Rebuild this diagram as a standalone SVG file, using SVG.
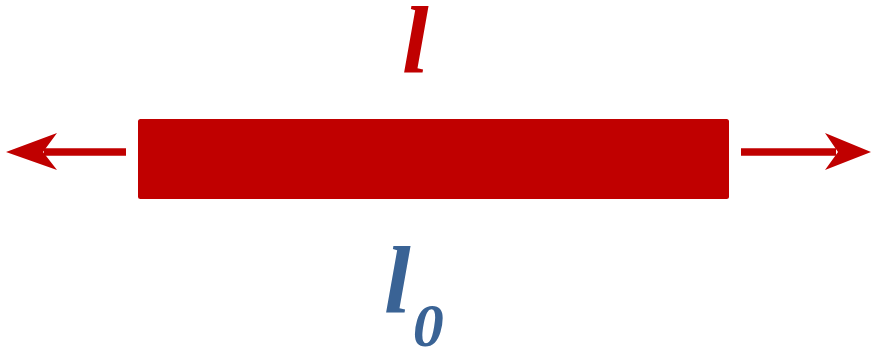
<svg xmlns="http://www.w3.org/2000/svg" width="872" height="351" viewBox="0 0 872 351">
<style>
.red{fill:#C00000}
.shaft{stroke:#C00000;stroke-width:7.5;fill:none}
.lbl{font-family:"Liberation Serif","Times New Roman",serif;font-weight:bold;font-style:italic}
</style>
<rect width="872" height="351" fill="#fff"/>
<g id="bar"><rect class="red" x="138" y="119" width="591" height="80" rx="2.5"/></g>
<g id="connectors">
<line class="shaft" x1="126" y1="152" x2="44" y2="152"/>
<polygon class="red" points="6,152 57,133 43,152 57,170"/>
<line class="shaft" x1="741" y1="152" x2="836" y2="152"/>
<polygon class="red" points="871,152 825,133 838,152 825,170"/>
</g>
<g id="label-l"><text class="lbl" x="402" y="72" font-size="96" fill="#C00000">l</text></g>
<g id="label-l0"><text class="lbl" x="384" y="312" font-size="96" fill="#3A6395">l<tspan font-size="62" dx="2" dy="34">0</tspan></text></g>
</svg>
